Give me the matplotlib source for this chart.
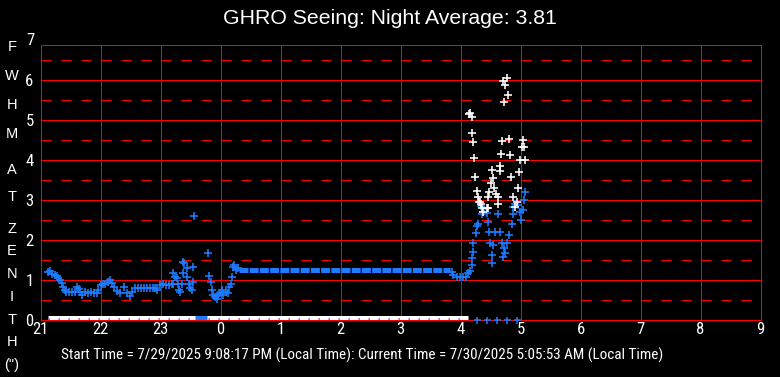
"""GHRO seeing monitor: FWHM at zenith over one night (21:00 to 09:00 local)."""

import matplotlib

matplotlib.use("Agg")
import matplotlib.pyplot as plt
from matplotlib import font_manager

plt.rcParams["lines.scale_dashes"] = False

W_PX, H_PX, DPI = 780, 377, 100
PX = 72.0 / DPI  # points per pixel

REGULAR = ["Liberation Sans", "DejaVu Sans"]
BLUE = "#1e7bff"
RED = "#ff0000"

TITLE = "GHRO Seeing: Night Average: 3.81"
FOOTER = ("Start Time = 7/29/2025 9:08:17 PM (Local Time): "
          "Current Time = 7/30/2025 5:05:53 AM (Local Time)")
YLABEL_LETTERS = ["F", "W", "H", "M", "A", "T", "Z", "E", "N", "I", "T", "H", '(")']
HOUR_LABELS = ["21", "22", "23", "0", "1", "2", "3", "4", "5", "6", "7", "8", "9"]
Y_TICKS = [0, 1, 2, 3, 4, 5, 6]

# times are hours after 21:00 local
BLUE_T = [0.13, 0.16, 0.19, 0.24, 0.28, 0.29, 0.33, 0.36, 0.375, 0.41, 0.425, 0.475, 0.525,
          0.575, 0.61, 0.64, 0.66, 0.69, 0.74, 0.79, 0.84, 0.89, 0.94, 0.96, 1.01, 1.04,
          1.075, 1.125, 1.16, 1.19, 1.225, 1.275, 1.325, 1.39, 1.44, 1.49, 1.525, 1.575,
          1.625, 1.675, 1.725, 1.775, 1.825, 1.875, 1.91, 1.94, 1.99, 2.04, 2.09, 2.14,
          2.19, 2.21, 2.21, 2.24, 2.275, 2.29, 2.31, 2.325, 2.36, 2.375, 2.39, 2.375, 2.44,
          2.44, 2.475, 2.49, 2.525, 2.54, 2.54, 2.56, 2.79, 2.81, 2.84, 2.86, 2.875, 2.91,
          2.94, 2.96, 2.99, 3.025, 3.04, 3.09, 3.125, 3.14, 3.175, 3.19, 3.21, 3.225, 3.26,
          3.29,
          6.86, 6.875, 6.94, 6.99, 7.04, 7.09, 7.125, 7.16, 7.19, 7.19, 7.21, 7.21, 7.26,
          7.275, 7.29, 7.36, 7.375, 7.34, 7.39, 7.44, 7.46, 7.475, 7.49, 7.54, 7.525, 7.525,
          7.575, 7.625, 7.66, 7.69, 7.71, 7.725, 7.74, 7.775, 7.81, 7.86, 7.875, 7.875, 7.91,
          7.96, 7.99, 8.01, 8.04, 8.06, 8.075]
BLUE_V = [1.20, 1.23, 1.15, 1.14, 1.12, 1.06, 1.00, 0.93, 0.84, 0.76, 0.71, 0.70, 0.70,
          0.71, 0.84, 0.78, 0.72, 0.63, 0.71, 0.68, 0.70, 0.69, 0.68, 0.75, 0.88, 0.90,
          0.92, 0.96, 1.02, 0.93, 0.84, 0.74, 0.68, 0.84, 0.68, 0.62, 0.71, 0.80,
          0.82, 0.82, 0.82, 0.82, 0.82, 0.82, 0.80, 0.75, 0.88, 0.90, 0.88, 0.88,
          0.90, 0.92, 1.18, 1.08, 1.05, 0.92, 0.75, 0.71, 0.90, 1.46, 1.43, 1.18, 1.30,
          1.08, 0.92, 0.82, 0.77, 0.96, 1.33, 2.61, 1.68, 1.10, 0.96, 0.77, 0.63, 0.59,
          0.53, 0.63, 0.68, 0.75, 0.63, 0.71, 0.68, 0.84, 0.92, 1.08, 1.33, 1.38, 1.26,
          1.30,
          1.20, 1.13, 1.08, 1.08, 1.08, 1.08, 1.18, 1.23, 1.38, 1.55, 1.70, 1.93, 2.18,
          2.36, 2.42, 2.67, 2.70, 2.85, 2.78, 2.68, 2.46, 2.21, 1.93, 1.88, 1.63, 1.43,
          2.21, 2.67, 2.21, 1.93, 1.59, 1.80, 1.68, 1.93, 2.13, 2.42, 2.67, 2.83, 2.92,
          2.88, 2.71, 2.51, 2.76, 3.02, 3.20]

# long flat run of the blue trace between 00:18 and 03:50
BAND_T = [3.31, 6.83]
BAND_V = [1.27, 1.27]

WHITE_T = [7.775, 7.71, 7.74, 7.79, 7.725, 7.16, 7.14, 7.19, 7.19, 7.21, 7.69, 7.81, 8.04,
           8.025, 8.06, 7.225, 7.675, 7.825, 7.99, 8.075, 7.975, 7.525, 7.66, 7.65, 7.24,
           7.54, 7.84, 7.51, 7.56, 7.96, 7.275, 7.475, 7.29, 7.46, 7.59, 7.625, 7.875,
           7.31, 7.34, 7.625, 7.44, 7.355, 7.325, 7.375, 7.46, 7.91, 7.94]
WHITE_V = [6.06, 5.98, 5.88, 5.63, 5.46, 5.18, 5.16, 5.08, 4.68, 4.46, 4.48, 4.53, 4.51,
           4.33, 4.33, 4.06, 4.16, 4.13, 4.00, 4.00, 3.71, 3.76, 3.86, 3.73, 3.58,
           3.56, 3.58, 3.43, 3.31, 3.31, 3.23, 3.21, 3.08, 3.08, 3.16, 3.08, 3.08,
           2.96, 2.91, 2.91, 2.81, 2.81, 2.95, 2.70, 2.80, 2.83, 2.96]

# zero readings: dense white run, a short dense blue run, then sparse blue zeros
ZERO_WHITE_T = [0.133, 7.125]
ZERO_BLUE_RUN_T = [2.575, 2.775]
ZERO_BLUE_T = [7.275, 7.44, 7.61, 7.775, 7.94]

# pixel rows of the stacked axis-title letters
YLABEL_ROWS = [47, 76, 105, 134, 170, 197, 229, 251, 274, 297, 320, 342, 365]


def _narrow_font() -> font_manager.FontProperties:
    """Pick a condensed sans face if one is installed."""
    names = {f.name for f in font_manager.fontManager.ttflist}
    for name in ["Liberation Sans Narrow", "Arial Narrow", "Roboto Condensed",
                 "Open Sans Condensed", "Noto Sans Condensed", "DejaVu Sans Condensed"]:
        if name in names:
            return font_manager.FontProperties(family=name)
    for f in font_manager.fontManager.ttflist:
        if f.stretch in ("condensed", "semi-condensed", 400, 300) and "Sans" in f.name:
            return font_manager.FontProperties(fname=f.fname)
    return font_manager.FontProperties(family="Liberation Sans")


def main() -> None:
    narrow = _narrow_font()

    fig = plt.figure(figsize=(W_PX / DPI, H_PX / DPI), dpi=DPI, facecolor="black")
    left, right, bottom, top = 40.5, 760.5, 320.3, 45.3
    ax = fig.add_axes([left / W_PX, 1 - bottom / H_PX, (right - left) / W_PX, (bottom - top) / H_PX])
    ax.set_facecolor("black")
    ymax = (bottom - top) / 40.0
    ax.set_xlim(0, 12)
    ax.set_ylim(0, ymax)

    # grid: solid at whole hours / whole units, dashed at half units
    for h in range(13):
        ax.axvline(h, color=RED, lw=1 * PX, zorder=1)
    for v in Y_TICKS:
        ax.axhline(v, color=RED, lw=1 * PX, zorder=1)
    for v in [k + 0.5 for k in range(7)]:
        ax.axhline(v, color=RED, lw=1 * PX, dashes=(10 * PX, 10 * PX), zorder=1)
    for s in ax.spines.values():
        s.set_color(RED)
        s.set_linewidth(1 * PX)

    # zero readings
    ax.plot(ZERO_WHITE_T, [0, 0], color="white", lw=9 * PX, solid_capstyle="butt", zorder=3)
    ax.plot(ZERO_WHITE_T, [0, 0], color=BLUE, lw=5 * PX, dashes=(1.2 * PX, 8.8 * PX), zorder=4)
    ax.plot(ZERO_BLUE_RUN_T, [0, 0], color=BLUE, lw=9 * PX, solid_capstyle="butt", zorder=4)
    ax.plot(ZERO_BLUE_T, [0] * len(ZERO_BLUE_T), ls="none", marker="+", ms=7 * PX,
            mew=1.5 * PX, color=BLUE, clip_on=False, zorder=5)

    # blue trace
    ax.plot(BAND_T, BAND_V, color=BLUE, lw=5 * PX, dashes=(9 * PX, 1.2 * PX),
            dash_capstyle="butt", zorder=4)
    ax.plot(BLUE_T, BLUE_V, ls="none", marker="+", ms=7.5 * PX, mew=1.6 * PX, color=BLUE, zorder=5)
    ax.plot(WHITE_T, WHITE_V, ls="none", marker="+", ms=7.5 * PX, mew=1.6 * PX, color="white", zorder=6)

    ax.set_xticks(range(13))
    ax.set_xticklabels(HOUR_LABELS)
    ax.set_yticks(Y_TICKS)
    ax.tick_params(length=0, colors="white")
    ax.tick_params(axis="x", pad=1.5)
    ax.tick_params(axis="y", pad=5)
    for lab in ax.get_xticklabels() + ax.get_yticklabels():
        lab.set_fontproperties(narrow)
        lab.set_fontsize(12)
    # the top tick label sits above the clipped plot area
    ax.text(-0.1, 7, "7", ha="right", va="center", color="white", fontproperties=narrow,
            fontsize=12, clip_on=False)

    fig.text(0.5, 1 - 18 / H_PX, TITLE, ha="center", va="center", color="white",
             fontsize=15.3, family=REGULAR)
    fig.text(362.5 / W_PX, 1 - 355 / H_PX, FOOTER, ha="center", va="center", color="white",
             fontproperties=narrow, fontsize=10.9)
    for row, letter in zip(YLABEL_ROWS, YLABEL_LETTERS):
        fig.text(12 / W_PX, 1 - row / H_PX, letter, ha="center", va="center",
                 color="white", fontsize=10.5, family=REGULAR)

    fig.savefig("out.png", dpi=DPI, facecolor="black")
    plt.close(fig)


if __name__ == "__main__":
    main()
